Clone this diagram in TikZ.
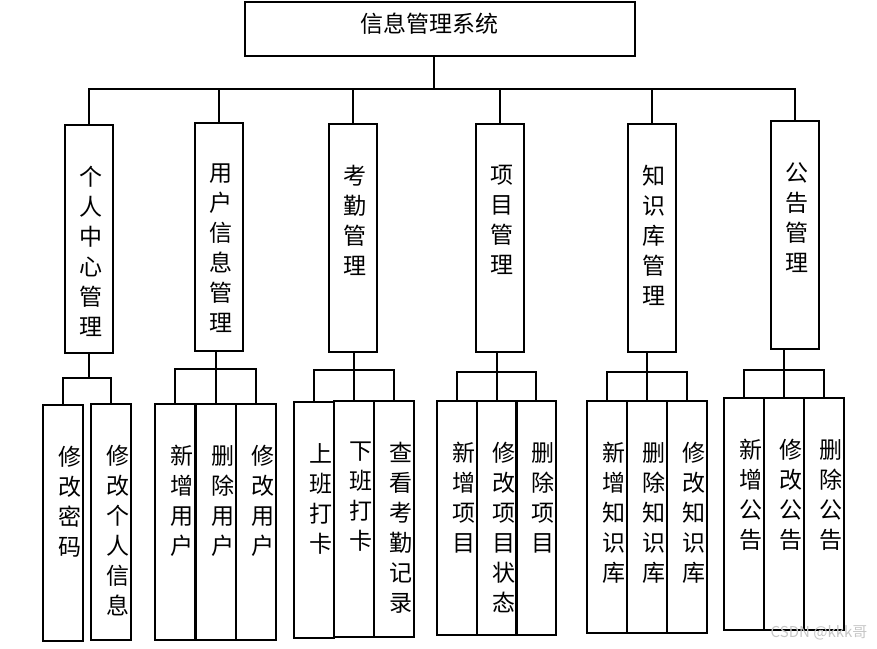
\documentclass[tikz,border=0pt]{standalone}
\usepackage{fontspec}
\setmainfont{Noto Sans CJK SC}

\begin{document}
\begin{tikzpicture}[
  x=1pt, y=-1pt,
  mainbox/.style={draw, line width=2pt, minimum width=390pt,
                  minimum height=54pt, inner sep=0pt},
  subbox/.style={draw, line width=2pt, minimum width=48pt,
                 minimum height=228pt, inner sep=0pt, anchor=north},
  leafbox/.style={draw, line width=2pt, minimum width=40pt,
                  minimum height=236pt, inner sep=0pt, anchor=north},
  vtext/.style={anchor=north, align=center, inner sep=0pt,
                font=\fontsize{23}{30}\selectfont},
  link/.style={line width=2pt}
]
\useasboundingbox (0,0) rectangle (877,648);

% top
\node[mainbox] (sys) at (440,29) {};
\node[inner sep=0pt, font=\fontsize{23}{23}\selectfont] (sys-t) at (429,24) {信息管理系统};

% second level
\node[subbox] (grzx) at (89,124)  {};
\node[subbox] (yhxx) at (219,122) {};
\node[subbox] (kq)   at (353,123) {};
\node[subbox] (xm)   at (500,123) {};
\node[subbox] (zsk)  at (652,123) {};
\node[subbox] (gg)   at (795,120) {};
\node[vtext, xshift=2pt, yshift=-42pt] (grzx-t) at (grzx.north) {个\\人\\中\\心\\管\\理};
\node[vtext, xshift=2pt, yshift=-42pt] (yhxx-t) at (yhxx.north) {用\\户\\信\\息\\管\\理};
\node[vtext, xshift=2pt, yshift=-42pt] (kq-t)   at (kq.north)   {考\\勤\\管\\理};
\node[vtext, xshift=2pt, yshift=-42pt] (xm-t)   at (xm.north)   {项\\目\\管\\理};
\node[vtext, xshift=2pt, yshift=-42pt] (zsk-t)  at (zsk.north)  {知\\识\\库\\管\\理};
\node[vtext, xshift=2pt, yshift=-42pt] (gg-t)   at (gg.north)   {公\\告\\管\\理};

% leaves
\node[leafbox] (grzx1) at (63,404)  {};
\node[leafbox] (grzx2) at (111,403) {};
\node[leafbox] (yhxx1) at (175,403) {};
\node[leafbox] (yhxx2) at (216,403) {};
\node[leafbox] (yhxx3) at (256,403) {};
\node[leafbox] (kq1)   at (314,401) {};
\node[leafbox] (kq2)   at (354,400) {};
\node[leafbox] (kq3)   at (394,400) {};
\node[leafbox, minimum height=234pt] (xm1)  at (457,400) {};
\node[leafbox, minimum height=234pt] (xm2)  at (497,400) {};
\node[leafbox, minimum height=234pt] (xm3)  at (536,400) {};
\node[leafbox, minimum height=232pt] (zsk1) at (607,400) {};
\node[leafbox, minimum height=232pt] (zsk2) at (647,400) {};
\node[leafbox, minimum height=232pt] (zsk3) at (687,400) {};
\node[leafbox, minimum height=232pt] (gg1)  at (744,397) {};
\node[leafbox, minimum height=232pt] (gg2)  at (784,397) {};
\node[leafbox, minimum height=232pt] (gg3)  at (824,397) {};

\node[vtext, xshift=6.5pt, yshift=-42pt] (grzx1-t) at (grzx1.north) {修\\改\\密\\码};
\node[vtext, xshift=6.5pt, yshift=-42pt] (grzx2-t) at (grzx2.north) {修\\改\\个\\人\\信\\息};
\node[vtext, xshift=6.5pt, yshift=-42pt] (yhxx1-t) at (yhxx1.north) {新\\增\\用\\户};
\node[vtext, xshift=6.5pt, yshift=-42pt] (yhxx2-t) at (yhxx2.north) {删\\除\\用\\户};
\node[vtext, xshift=6.5pt, yshift=-42pt] (yhxx3-t) at (yhxx3.north) {修\\改\\用\\户};
\node[vtext, xshift=6.5pt, yshift=-42pt] (kq1-t)   at (kq1.north)   {上\\班\\打\\卡};
\node[vtext, xshift=6.5pt, yshift=-42pt] (kq2-t)   at (kq2.north)   {下\\班\\打\\卡};
\node[vtext, xshift=6.5pt, yshift=-42pt] (kq3-t)   at (kq3.north)   {查\\看\\考\\勤\\记\\录};
\node[vtext, xshift=6.5pt, yshift=-42pt] (xm1-t)   at (xm1.north)   {新\\增\\项\\目};
\node[vtext, xshift=6.5pt, yshift=-42pt] (xm2-t)   at (xm2.north)   {修\\改\\项\\目\\状\\态};
\node[vtext, xshift=6.5pt, yshift=-42pt] (xm3-t)   at (xm3.north)   {删\\除\\项\\目};
\node[vtext, xshift=6.5pt, yshift=-42pt] (zsk1-t)  at (zsk1.north)  {新\\增\\知\\识\\库};
\node[vtext, xshift=6.5pt, yshift=-42pt] (zsk2-t)  at (zsk2.north)  {删\\除\\知\\识\\库};
\node[vtext, xshift=6.5pt, yshift=-42pt] (zsk3-t)  at (zsk3.north)  {修\\改\\知\\识\\库};
\node[vtext, xshift=6.5pt, yshift=-42pt] (gg1-t)   at (gg1.north)   {新\\增\\公\\告};
\node[vtext, xshift=6.5pt, yshift=-42pt] (gg2-t)   at (gg2.north)   {修\\改\\公\\告};
\node[vtext, xshift=6.5pt, yshift=-42pt] (gg3-t)   at (gg3.north)   {删\\除\\公\\告};

% connectors
\coordinate (bus)  at (434,89);
\coordinate (bar1) at (0,378);
\coordinate (bar2) at (0,369);
\coordinate (bar3) at (0,370);
\coordinate (bar4) at (0,372);
\coordinate (bar5) at (0,372);
\coordinate (bar6) at (0,370);

\draw[link] (sys.south -| bus) -- (bus);
\draw[link] (grzx.north) |- (bus) -| (gg.north);
\draw[link] (yhxx.north) -- (yhxx.north |- bus);
\draw[link] (kq.north)   -- (kq.north |- bus);
\draw[link] (xm.north)   -- (xm.north |- bus);
\draw[link] (zsk.north)  -- (zsk.north |- bus);

\draw[link] (grzx.south) -- (grzx.south |- bar1);
\draw[link] (grzx1.north) |- (grzx2.north |- bar1) -- (grzx2.north);

\draw[link] (yhxx2.north) -- (yhxx2.north |- yhxx.south);
\draw[link] (yhxx1.north) |- (yhxx3.north |- bar2) -- (yhxx3.north);

\draw[link] (kq2.north) -- (kq2.north |- kq.south);
\draw[link] (kq1.north) |- (kq3.north |- bar3) -- (kq3.north);

\draw[link] (xm2.north) -- (xm2.north |- xm.south);
\draw[link] (xm1.north) |- (xm3.north |- bar4) -- (xm3.north);

\draw[link] (zsk2.north) -- (zsk2.north |- zsk.south);
\draw[link] (zsk1.north) |- (zsk3.north |- bar5) -- (zsk3.north);

\draw[link] (gg2.north) -- (gg2.north |- gg.south);
\draw[link] (gg1.north) |- (gg3.north |- bar6) -- (gg3.north);

\node[text=gray!45, inner sep=0pt, font=\fontsize{15}{15}\selectfont] (mark) at (819,633) {CSDN @kkk哥};
\end{tikzpicture}
\end{document}
